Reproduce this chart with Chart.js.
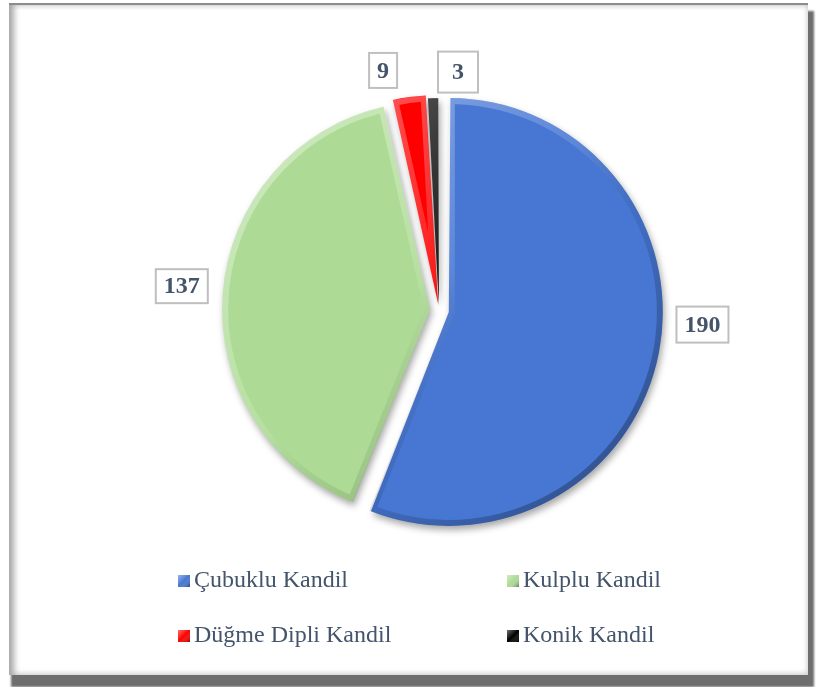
<!DOCTYPE html>
<html>
<head>
<meta charset="utf-8">
<script src="https://cdn.jsdelivr.net/npm/chart.js@4.4.0/dist/chart.umd.min.js"></script>
<style>
body { margin: 0; background: #fff; }
.frame {
    position: absolute; left: 9px; top: 3px; width: 799px; height: 670px;
    background: #fff; border-top: 2px solid #8c8c8c;
    box-shadow: inset 11px 0 6px -6px #a6a6a6, inset 0 5px 5px -4px #c8c8c8,
                inset -5px -6px 5px -4px #d0d0d0, 4px 10px 2px 2px #6e6e6e;
}
canvas { position: absolute; left: 0; top: 0; }
</style>
</head>
<body>
<div class="frame"></div>
<canvas id="kandilChart" width="817" height="687"></canvas>
<script>
const categories = ["Çubuklu Kandil", "Kulplu Kandil", "Düğme Dipli Kandil", "Konik Kandil"];
const counts = [190, 137, 9, 3];
const sliceColors = ["#4777d3", "#addb95", "#ff0000", "#000000"];

const TEXT_COLOR = "#44546a";
const SERIF = "'Liberation Serif', 'Times New Roman', serif";

// gölge + kabartma + etiketler
const pieDecor = {
    id: "pieDecor",
    beforeDatasetsDraw(chart) {
        const ctx = chart.ctx;
        ctx.save();
        ctx.shadowColor = "rgba(0,0,0,0.35)";
        ctx.shadowBlur = 7;
        ctx.shadowOffsetX = 2;
        ctx.shadowOffsetY = 4;
    },
    afterDatasetsDraw(chart, args, opts) {
        const ctx = chart.ctx;
        ctx.restore();
        const arcs = chart.getDatasetMeta(0).data;

        arcs.forEach((arc) => {
            const p = arc.getProps(["x", "y", "startAngle", "endAngle", "outerRadius"], true);
            const off = (arc.options.offset || 0) / 4;
            const half = (p.startAngle + p.endAngle) / 2;
            const fix = 1 - Math.sin(Math.min(Math.PI, p.endAngle - p.startAngle));
            const r = p.outerRadius + off * fix;

            ctx.save();
            ctx.translate(Math.cos(half) * off, Math.sin(half) * off);
            ctx.beginPath();
            ctx.moveTo(p.x, p.y);
            ctx.arc(p.x, p.y, r, p.startAngle, p.endAngle);
            ctx.closePath();
            ctx.clip();
            const g = ctx.createLinearGradient(p.x - r, p.y - r, p.x + r, p.y + r);
            g.addColorStop(0, "rgba(255,255,255,0.45)");
            g.addColorStop(0.45, "rgba(255,255,255,0.12)");
            g.addColorStop(0.6, "rgba(0,0,0,0.08)");
            g.addColorStop(1, "rgba(0,0,0,0.4)");
            ctx.lineWidth = 12;
            ctx.strokeStyle = g;
            ctx.stroke();
            ctx.restore();
        });

        // veri etiketleri
        ctx.save();
        ctx.font = "bold 24px " + SERIF;
        ctx.textAlign = "center";
        ctx.textBaseline = "middle";
        arcs.forEach((arc, i) => {
            const p = arc.getProps(["x", "y", "startAngle", "endAngle", "outerRadius"], true);
            const half = (p.startAngle + p.endAngle) / 2;
            const d = p.outerRadius + opts.distance;
            const nudge = opts.nudge[i];
            const lx = p.x + Math.cos(half) * d + nudge[0];
            const ly = p.y + Math.sin(half) * d + nudge[1];
            const txt = String(chart.data.datasets[0].data[i]);
            const [w, h] = opts.boxSize[i];
            ctx.fillStyle = "#fff";
            ctx.fillRect(lx - w / 2, ly - h / 2, w, h);
            ctx.strokeStyle = "#bfbfbf";
            ctx.lineWidth = 2;
            ctx.strokeRect(lx - w / 2, ly - h / 2, w, h);
            ctx.fillStyle = TEXT_COLOR;
            ctx.fillText(txt, lx, ly + 1);
        });
        ctx.restore();
    },
    afterDraw(chart, args, opts) {
        // iki sütunlu lejant
        const ctx = chart.ctx;
        ctx.save();
        ctx.font = "24px " + SERIF;
        ctx.textBaseline = "alphabetic";
        chart.data.labels.forEach((lbl, i) => {
            const x = opts.legendCols[i % 2];
            const y = opts.legendRows[Math.floor(i / 2)];
            const c = chart.data.datasets[0].backgroundColor[i];
            ctx.fillStyle = c;
            ctx.fillRect(x, y - 12, 12, 12);
            const g = ctx.createLinearGradient(x, y - 12, x + 12, y);
            g.addColorStop(0, "rgba(255,255,255,0.45)");
            g.addColorStop(0.5, "rgba(255,255,255,0)");
            g.addColorStop(1, "rgba(0,0,0,0.45)");
            ctx.fillStyle = g;
            ctx.fillRect(x, y - 12, 12, 12);
            ctx.fillStyle = TEXT_COLOR;
            ctx.fillText(lbl, x + 16, y);
        });
        ctx.restore();
    }
};

new Chart(document.getElementById("kandilChart"), {
    type: "pie",
    data: {
        labels: categories,
        datasets: [{
            data: counts,
            backgroundColor: sliceColors,
            borderWidth: 0,
            offset: [40, 36, 24, 16]
        }]
    },
    options: {
        responsive: false,
        animation: false,
        layout: { padding: { top: 86, bottom: 153, left: 200, right: 139 } },
        plugins: {
            legend: { display: false },
            tooltip: { enabled: false },
            pieDecor: {
                distance: 48,
                nudge: [[16, -33], [-6, -4], [-21, 10], [26, 14]],
                boxSize: [[52, 36], [52, 34], [28, 35], [40, 41]],
                legendCols: [178, 507],
                legendRows: [587, 642]
            }
        }
    },
    plugins: [pieDecor]
});
</script>
</body>
</html>
